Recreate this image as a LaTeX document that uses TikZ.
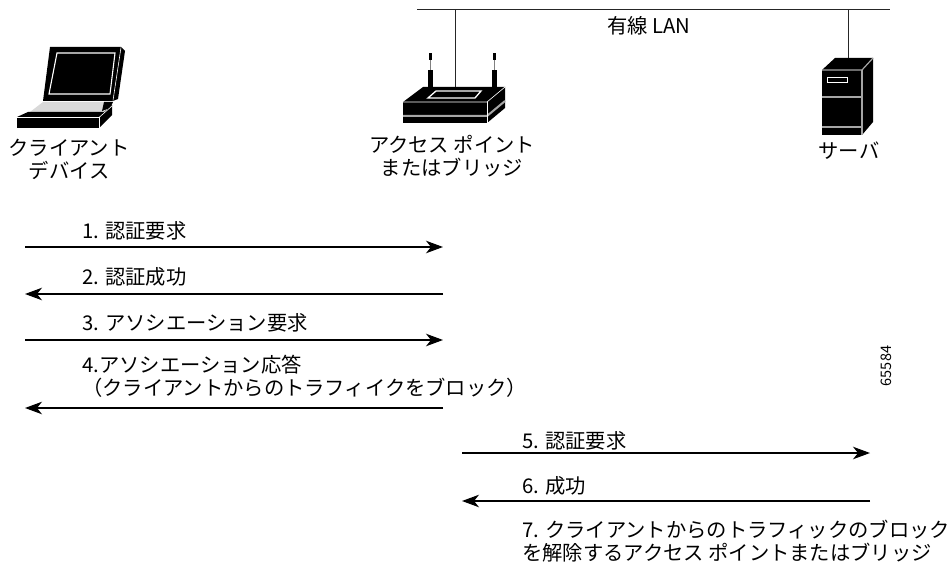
\documentclass[tikz,border=0pt]{standalone}
\usepackage{fontspec}
\setmainfont{Noto Sans CJK JP}
\usetikzlibrary{arrows.meta}
\tikzset{
  lbl/.style={inner sep=0pt, font=\fontsize{20.3}{23}\selectfont},
  msg/.style={lbl, anchor=west, align=left},
  msgarrow/.style={line width=1.3pt, -{Stealth[length=17pt,width=12.5pt,inset=5pt]}},
  wire/.style={line width=0.9pt, black!85},
  blk/.style={fill=black, draw=none},
  whiteedge/.style={draw=white, line width=0.6pt},
  grayedge/.style={draw=gray!70, line width=1.2pt},
}
\begin{document}
\begin{tikzpicture}[x=1pt,y=-1pt]
\useasboundingbox (0,0) rectangle (952,572);

% ---------- wired LAN ----------
\coordinate (lanL) at (417,9.5);
\coordinate (lanR) at (890,9.5);
\coordinate (apTop) at (455,91);
\coordinate (srvTop) at (848,58);
\draw[wire] (lanL) -- (lanR);
\draw[wire] (apTop) -- (apTop |- lanL);
\draw[wire] (srvTop) -- (srvTop |- lanL);
\node[lbl] (lan) at (649,25.5) {有線 LAN};

% ---------- laptop ----------
\fill[blk] (50,47) -- (121,47) -- (125,51) -- (118,99) -- (113,101) -- (43,101) -- cycle;
\draw[white, line width=1.1pt] (57,53) -- (115,53) -- (110,94) -- (49,94) -- cycle;
\draw[whiteedge] (121,47.5) -- (113,100.5);
\fill[gray!30] (43,102) -- (112,102) -- (103,112) -- (30,112) -- cycle;
\fill[blk] (104,102) -- (113,102) -- (110,108) -- (102,111) -- cycle;
\fill[blk] (17,117) -- (28,112) -- (104,112) -- (112,105) -- (112,115) -- (99,128) -- (17,128) -- cycle;
\draw[whiteedge] (17,117.5) -- (99,117.5) -- (112,106);
\draw[whiteedge] (99,117.5) -- (99,128);
\node[lbl, align=center] (client) at (69,159) {クライアント\\デバイス};

% ---------- access point ----------
\fill[blk] (429,53) rectangle (431.5,60);
\draw[gray, line width=1pt] (430.2,60) -- (430.2,70);
\fill[blk] (428,70) rectangle (432.5,88);
\fill[blk] (493,53) rectangle (495.5,60);
\draw[gray, line width=1pt] (494.2,60) -- (494.2,70);
\fill[blk] (492,70) rectangle (496.5,88);
\fill[blk] (403,102) -- (423,87) -- (505,87) -- (487,102) -- cycle;
\fill[blk] (403,102) rectangle (487,123);
\fill[blk] (487,102) -- (505,87) -- (505,108) -- (487,123) -- cycle;
\draw[gray!70, line width=2pt] (403,116) -- (487,116) -- (505,101);
\draw[whiteedge] (403,102) -- (487,102) -- (505,87);
\draw[whiteedge] (487,102) -- (487,123);
\draw[white, line width=1.3pt] (428,98) -- (436,91) -- (481,91) -- (475,98) -- cycle;
\node[lbl, align=center] (ap) at (452,156) {アクセス ポイント\\またはブリッジ};

% ---------- server ----------
\fill[blk] (822,70) rectangle (862,135);
\fill[blk] (822,70) -- (835,58) -- (873,58) -- (862,70) -- cycle;
\fill[blk] (862,70) -- (873,58) -- (873,122) -- (862,135) -- cycle;
\draw[grayedge] (822,70) -- (862,70) -- (873,58);
\draw[grayedge] (862,70) -- (862,135);
\draw[grayedge] (822,97) -- (862,97);
\draw[grayedge] (822,127) -- (862,127);
\draw[white, line width=0.9pt] (827,77) rectangle (847,82);
\node[lbl] (server) at (849,151) {サーバ};

% ---------- message arrows ----------
\coordinate (c1) at (25,247);  \coordinate (a1) at (443,247);
\coordinate (c2) at (25,294);  \coordinate (a2) at (443,294);
\coordinate (c3) at (25,340);  \coordinate (a3) at (443,340);
\coordinate (c4) at (25,408);  \coordinate (a4) at (443,408);
\coordinate (a5) at (462,453); \coordinate (s5) at (870,453);
\coordinate (a6) at (462,501); \coordinate (s6) at (870,501);

\draw[msgarrow] (c1) -- (a1);
\draw[msgarrow] (a2) -- (c2);
\draw[msgarrow] (c3) -- (a3);
\draw[msgarrow] (a4) -- (c4);
\draw[msgarrow] (a5) -- (s5);
\draw[msgarrow] (s6) -- (a6);

\node[msg] (m1) at (82,230.5) {1. 認証要求};
\node[msg] (m2) at (82,277) {2. 認証成功};
\node[msg] (m3) at (82,322.5) {3. アソシエーション要求};
\node[msg] (m4) at (82,376) {4.アソシエーション応答\\（クライアントからのトラフィイクをブロック）};
\node[msg] (m5) at (522,440.5) {5. 認証要求};
\node[msg] (m6) at (522,486) {6. 成功};
\node[msg] (m7) at (522,541.5) {7. クライアントからのトラフィックのブロック\\を解除するアクセス ポイントまたはブリッジ};

\node[inner sep=0pt, rotate=90, font=\fontsize{14.5}{14.5}\selectfont] (fig) at (886,366) {65584};
\end{tikzpicture}
\end{document}
